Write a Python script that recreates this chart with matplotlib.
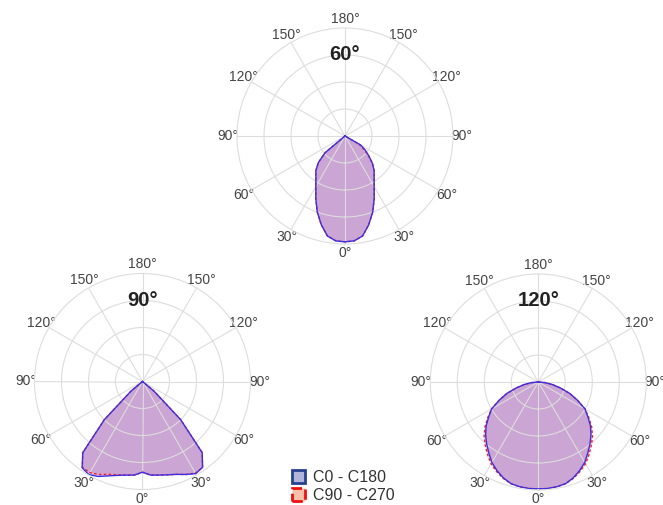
import numpy as np
import matplotlib
matplotlib.use("Agg")
import matplotlib.pyplot as plt
from matplotlib.patches import Patch

plt.rcParams['font.family'] = ['Liberation Sans', 'DejaVu Sans']

# gamma angles (deg) measured from nadir; values are relative intensity (0..1)
GAMMA = [0, 5, 10, 15, 20, 25, 30, 35, 40, 45, 50, 55, 60, 65, 70, 75, 80, 85, 90]

# 60 deg beam
b60_c0 = [0.98, 0.975, 0.94, 0.85, 0.75, 0.64, 0.54, 0.47, 0.42, 0.36, 0.29, 0.23, 0.17, 0.0, 0, 0, 0, 0, 0]
b60_c180 = [0.98, 0.975, 0.94, 0.85, 0.75, 0.64, 0.54, 0.47, 0.42, 0.35, 0.24, 0.0, 0, 0, 0, 0, 0, 0, 0]
b60_c90 = [0.98, 0.975, 0.94, 0.85, 0.75, 0.64, 0.54, 0.47, 0.42, 0.36, 0.28, 0.21, 0.15, 0.0, 0, 0, 0, 0, 0]
b60_c270 = [0.98, 0.975, 0.94, 0.85, 0.75, 0.64, 0.54, 0.47, 0.42, 0.35, 0.24, 0.0, 0, 0, 0, 0, 0, 0, 0]

# 90 deg beam
b90_c0 = [0.84, 0.87, 0.88, 0.895, 0.915, 0.95, 0.985, 0.97, 0.86, 0.50, 0.14, 0.0, 0, 0, 0, 0, 0, 0, 0]
b90_c180 = [0.84, 0.87, 0.88, 0.90, 0.93, 0.97, 0.995, 0.975, 0.86, 0.50, 0.14, 0.0, 0, 0, 0, 0, 0, 0, 0]
b90_c90 = [0.84, 0.87, 0.88, 0.895, 0.915, 0.95, 0.98, 0.97, 0.86, 0.50, 0.14, 0.0, 0, 0, 0, 0, 0, 0, 0]
b90_c270 = [0.84, 0.87, 0.88, 0.895, 0.915, 0.95, 0.975, 0.97, 0.86, 0.50, 0.14, 0.0, 0, 0, 0, 0, 0, 0, 0]

# 120 deg beam
b120_c0 = [0.99, 0.99, 0.985, 0.975, 0.945, 0.905, 0.86, 0.80, 0.745, 0.69, 0.63, 0.56, 0.50, 0.40, 0.31, 0.21, 0.13, 0.06, 0.0]
b120_c180 = [0.99, 0.99, 0.985, 0.975, 0.945, 0.905, 0.86, 0.80, 0.745, 0.69, 0.63, 0.56, 0.50, 0.40, 0.31, 0.21, 0.13, 0.06, 0.0]
b120_c90 = [0.99, 0.99, 0.985, 0.975, 0.95, 0.915, 0.875, 0.82, 0.765, 0.71, 0.645, 0.57, 0.50, 0.40, 0.31, 0.21, 0.13, 0.06, 0.0]
b120_c270 = [0.99, 0.99, 0.985, 0.975, 0.95, 0.915, 0.875, 0.82, 0.765, 0.71, 0.645, 0.57, 0.50, 0.40, 0.31, 0.21, 0.13, 0.06, 0.0]

TITLES = ['60°', '90°', '120°']
ANGLE_LABELS = ['0°', '30°', '60°', '90°', '120°', '150°', '180°', '150°', '120°', '90°', '60°', '30°']
LEGEND_LABELS = ['C0 - C180', 'C90 - C270']

W, H = 663, 505
R = 108
CENTERS = [(345, 136), (142.5, 381.5), (538.3, 382)]


def profile(right, left):
    g = np.radians(GAMMA)
    theta = np.concatenate([-g[::-1], g[1:]])
    r = np.concatenate([np.array(left)[::-1], np.array(right)[1:]])
    return theta, r


fig = plt.figure(figsize=(W / 100, H / 100), dpi=100)

charts = [
    (b60_c0, b60_c180, b60_c90, b60_c270),
    (b90_c0, b90_c180, b90_c90, b90_c270),
    (b120_c0, b120_c180, b120_c90, b120_c270),
]

for (cx, cy), title, (c0, c180, c90, c270) in zip(CENTERS, TITLES, charts):
    ax = fig.add_axes([(cx - R) / W, 1 - (cy + R) / H, 2 * R / W, 2 * R / H], projection='polar')
    ax.set_theta_zero_location('S')
    ax.set_theta_direction(1)
    ax.set_ylim(0, 1)
    ax.set_rticks([0.25, 0.5, 0.75])
    ax.set_yticklabels([])
    ax.set_thetagrids(range(0, 360, 30), ANGLE_LABELS)
    ax.tick_params(axis='x', labelsize=10, labelcolor='#444444', pad=-4)
    ax.grid(True, color='#dddddd', lw=0.8)
    ax.spines['polar'].set_color('#dddddd')
    ax.spines['polar'].set_linewidth(0.8)

    t2, r2 = profile(c90, c270)
    t1, r1 = profile(c0, c180)
    ax.fill(t2, r2, color='#ff0000', alpha=0.2, lw=0)
    ax.fill(t1, r1, color=(0.33, 0.30, 0.90), alpha=0.3, lw=0)
    ax.plot(t2, r2, color='#ff2020', lw=1.0, ls='--', dashes=(2, 1.5))
    ax.plot(t1, r1, color='#3b30e0', lw=1.0)

    ax.text(0.5, 0.877, title, transform=ax.transAxes, ha='center', va='center',
            fontsize=14.6, fontweight='bold', color='#222222')

handles = [
    Patch(facecolor='#b1b5d9', edgecolor='#27418f', lw=2),
    Patch(facecolor='#fac0aa', edgecolor='#ee1111', lw=2, ls='--'),
]
fig.legend(handles, LEGEND_LABELS, loc='upper left', bbox_to_anchor=(291.5 / W, 1 - 470 / H),
           frameon=False, fontsize=11.5, handlelength=0.85, handleheight=0.85,
           handletextpad=0.5, labelspacing=0.2, borderpad=0, borderaxespad=0,
           labelcolor='#333333')

fig.savefig('out.png', dpi=100)
